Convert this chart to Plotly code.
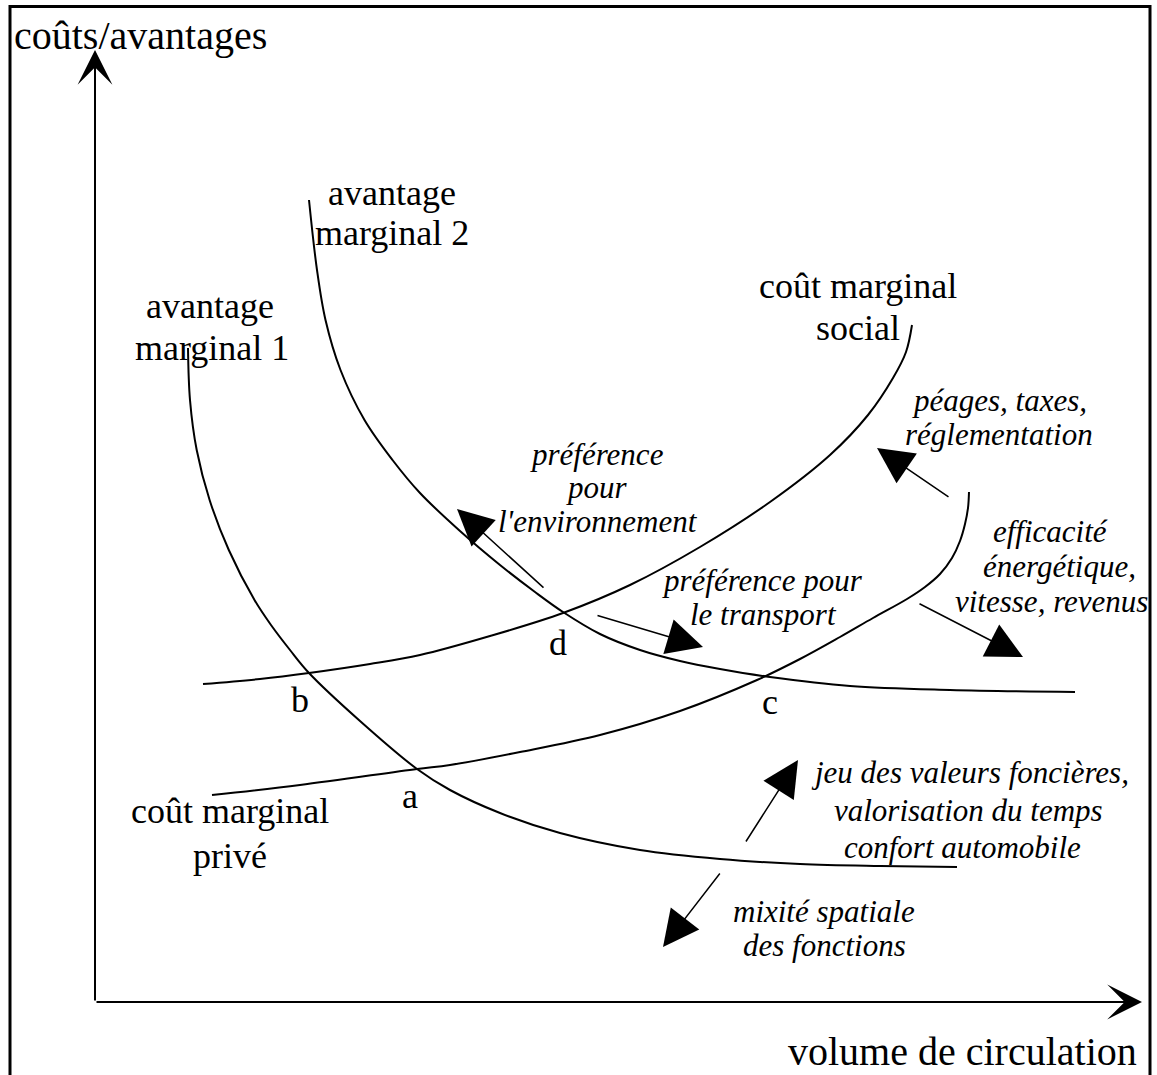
import plotly.graph_objects as go

# ---------------- data (schematic diagram, drawn in the figure's own coordinate frame) ----------------
# avantage marginal 1
AM1_X = [188, 190, 196.7, 209.6, 228.8, 254.5, 271, 290, 309, 360, 417, 450, 500, 560, 640, 720, 800, 880, 957]
AM1_Y = [348, 400, 450, 500, 550, 600, 625, 650, 673, 721, 769, 790, 813, 833, 850, 859, 864, 866, 867]
# avantage marginal 2
AM2_X = [309, 317, 325.5, 340.5, 364.5, 392.5, 420, 460, 500, 535, 563, 600, 640, 680, 720, 770, 850, 950, 1075]
AM2_Y = [200, 270, 320, 370, 420, 460, 493, 531, 565, 592, 612, 634, 650, 661, 669, 677, 686, 690, 692]
# coût marginal social
CMS_X = [203, 260, 309, 370, 420, 490, 563, 630, 700, 770, 830, 868, 893, 906, 912]
CMS_Y = [684, 679, 673, 664, 655, 636, 613, 585, 547, 502, 455, 415, 378, 352, 325]
# coût marginal privé
CMP_X = [212, 300, 417, 450, 520, 600, 680, 757, 800, 840, 873, 907, 925, 940, 952, 960, 965, 968, 969]
CMP_Y = [795, 785, 769, 765, 752, 735, 711, 680, 659, 637, 618, 599, 587, 574, 558, 541, 524, 508, 492]

CURVES = [(AM1_X, AM1_Y), (AM2_X, AM2_Y), (CMS_X, CMS_Y), (CMP_X, CMP_Y)]

# arrows: (tip x, tip y, tail x, tail y)
SHIFT_ARROWS = [
    (457, 509, 545, 589),    # préférence pour l'environnement
    (703, 647, 596, 615),    # préférence pour le transport
    (877, 448, 950, 498),    # péages, taxes, réglementation
    (1023, 657, 918, 603),   # efficacité énergétique...
    (798, 760, 745, 843),    # jeu des valeurs foncières...
    (663, 947, 721, 872),    # mixité spatiale des fonctions
]
AXIS_ARROWS = [
    (95, 50, 95, 1002),      # coûts/avantages
    (1142, 1002, 95, 1002),  # volume de circulation
]

AXIS_TITLES = ["coûts/avantages", "volume de circulation"]
CURVE_LABELS = ["avantage", "marginal 2", "avantage", "marginal 1",
                "coût marginal", "social", "coût marginal", "privé"]
POINT_LABELS = ["a", "b", "c", "d"]
SHIFT_LABELS = ["préférence", "pour", "l'environnement",
                "préférence pour", "le transport",
                "péages, taxes,", "réglementation",
                "efficacité", "énergétique,", "vitesse, revenus",
                "jeu des valeurs foncières,", "valorisation du temps", "confort automobile",
                "mixité spatiale", "des fonctions"]

# ---------------- layout positions ----------------
AXIS_TITLE_POS = [(12, 35, "left"), (1139, 1051, "right")]
CURVE_LABEL_POS = [(392, 193), (392, 233), (210, 306), (212, 348),
                   (858, 286), (858, 328), (230, 811), (230, 856)]
POINT_LABEL_POS = [(410, 796), (300, 700), (770, 702), (558, 643)]
SHIFT_LABEL_POS = [(597, 454), (597, 487), (598, 521),
                   (762, 580), (763, 614),
                   (999, 400), (999, 434),
                   (1050, 531), (1059, 566), (1051, 601),
                   (970, 772), (968, 810), (962, 847),
                   (824, 911), (824, 945)]

FONT = "Liberation Serif, Times New Roman, serif"

fig = go.Figure()

for xs, ys in CURVES:
    fig.add_trace(go.Scatter(x=xs, y=ys, mode="lines",
                             line=dict(color="black", width=2, shape="spline", smoothing=1.0),
                             hoverinfo="skip", showlegend=False))

annotations = []
for tx, ty, sx, sy in SHIFT_ARROWS:
    annotations.append(dict(x=tx, y=ty, ax=sx, ay=sy, xref="x", yref="y", axref="x", ayref="y",
                            text="", showarrow=True, arrowhead=2, arrowsize=4.8, arrowwidth=1.5,
                            arrowcolor="black"))
for tx, ty, sx, sy in AXIS_ARROWS:
    annotations.append(dict(x=tx, y=ty, ax=sx, ay=sy, xref="x", yref="y", axref="x", ayref="y",
                            text="", showarrow=True, arrowhead=3, arrowsize=2.9, arrowwidth=2,
                            arrowcolor="black"))

for txt, (x, y, anc) in zip(AXIS_TITLES, AXIS_TITLE_POS):
    annotations.append(dict(x=x, y=y, xref="x", yref="y", text=txt, showarrow=False,
                            xanchor=anc, yanchor="middle",
                            font=dict(family=FONT, size=40, color="black")))
for txt, (x, y) in zip(CURVE_LABELS, CURVE_LABEL_POS):
    annotations.append(dict(x=x, y=y, xref="x", yref="y", text=txt, showarrow=False,
                            xanchor="center", yanchor="middle",
                            font=dict(family=FONT, size=36, color="black")))
for txt, (x, y) in zip(POINT_LABELS, POINT_LABEL_POS):
    annotations.append(dict(x=x, y=y, xref="x", yref="y", text=txt, showarrow=False,
                            xanchor="center", yanchor="middle",
                            font=dict(family=FONT, size=36, color="black")))
for txt, (x, y) in zip(SHIFT_LABELS, SHIFT_LABEL_POS):
    annotations.append(dict(x=x, y=y, xref="x", yref="y", text="<i>" + txt + "</i>", showarrow=False,
                            xanchor="center", yanchor="middle",
                            font=dict(family=FONT, size=31, color="black")))

shapes = [dict(type="rect", xref="x", yref="y", x0=10, y0=6.5, x1=1150, y1=1090,
               line=dict(color="black", width=3), fillcolor="rgba(0,0,0,0)", layer="below")]

fig.update_layout(
    width=1157, height=1075, autosize=False,
    margin=dict(l=0, r=0, t=0, b=0, pad=0),
    paper_bgcolor="white", plot_bgcolor="white",
    xaxis=dict(range=[0, 1157], visible=False, fixedrange=True),
    yaxis=dict(range=[1075, 0], visible=False, fixedrange=True),
    annotations=annotations, shapes=shapes, showlegend=False,
)

fig.write_html("out.html",
               config={"displayModeBar": False, "staticPlot": True},
               post_script="document.body.style.margin='0';document.body.style.overflow='hidden';")
